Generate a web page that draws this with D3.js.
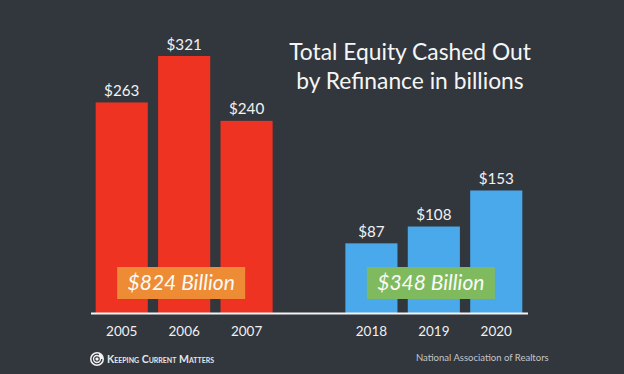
<!DOCTYPE html>
<html><head><meta charset="utf-8">
<script src="https://cdn.jsdelivr.net/npm/d3@7"></script>
<style>html,body{margin:0;padding:0;background:#32373e}svg{display:block}text{font-family:Lato,"Open Sans",sans-serif}</style>
</head><body><svg id="c" width="624" height="374"></svg>
<script>
const categories = ["2005","2006","2007","","2018","2019","2020"];
const years = ["2005","2006","2007","2018","2019","2020"];
const values = [263,321,240,87,108,153];
const barColors = ["#ef3322","#ef3322","#ef3322","#4aa9ea","#4aa9ea","#4aa9ea"];
const titleLines = ["Total Equity Cashed Out","by Refinance in billions"];
const totals = [
  {label:"$824 Billion",from:"2005",to:"2007",fill:"#ee8b35"},
  {label:"$348 Billion",from:"2018",to:"2020",fill:"#7fbb5e"}
];
const svg = d3.select("#c");
svg.append("rect").attr("width",624).attr("height",374).attr("fill","#32373e");
const x = d3.scaleBand().domain(categories).range([90.5,527.5]).paddingInner(0.165).paddingOuter(0.083);
const y = d3.scaleLinear().domain([0,321]).range([313,56]);

svg.selectAll("rect.bar").data(years).join("rect").attr("class","bar")
  .attr("x",d=>x(d)).attr("width",x.bandwidth())
  .attr("y",(d,i)=>y(values[i])).attr("height",(d,i)=>y(0)-y(values[i]))
  .attr("fill",(d,i)=>barColors[i]);

svg.selectAll("text.val").data(years).join("text").attr("class","val")
  .attr("x",d=>x(d)+x.bandwidth()/2).attr("y",(d,i)=>y(values[i])-6.5)
  .attr("text-anchor","middle").attr("font-size",15.2).attr("fill","#f2f2f2")
  .text((d,i)=>"$"+values[i]);

const axis = svg.append("g").attr("transform","translate(0,313)")
  .call(d3.axisBottom(x).tickSize(0).tickPadding(13).tickFormat(d=>d));
axis.select(".domain").attr("stroke","#f4f4f4").attr("stroke-width",2);
axis.selectAll("text").attr("font-size",13.5).attr("fill","#f0f0f0").style("font-family","Lato,sans-serif");

totals.forEach(t=>{
  const cx = (x(t.from)+x(t.to)+x.bandwidth())/2 - 3;
  svg.append("rect").attr("x",cx-64).attr("y",267).attr("width",128).attr("height",32).attr("fill",t.fill);
  svg.append("text").attr("x",cx).attr("y",290).attr("text-anchor","middle")
    .attr("font-size",21).attr("font-style","italic").attr("fill","#fbfbfb").text(t.label);
});

svg.selectAll("text.title").data(titleLines).join("text").attr("class","title")
  .attr("x",410).attr("y",(d,i)=>60+i*29).attr("text-anchor","middle")
  .attr("font-size",22.8).attr("fill","#f5f5f5").text(d=>d);

// logo
const logo = svg.append("g").attr("transform","translate(97,359)");
logo.append("circle").attr("r",7).attr("fill","#f2f2f2");
logo.append("circle").attr("r",4.8).attr("fill","none").attr("stroke","#32373e").attr("stroke-width",1.3).attr("stroke-dasharray","24 6");
logo.append("circle").attr("r",2.2).attr("fill","none").attr("stroke","#32373e").attr("stroke-width",1.2);
svg.append("text").attr("x",107).attr("y",363).attr("font-size",10.5).attr("font-weight",700)
  .style("font-variant","small-caps").attr("fill","#e6e6e6").text("Keeping Current Matters");
svg.append("text").attr("x",416).attr("y",361).attr("font-size",9.5).attr("fill","#c4c6c8").text("National Association of Realtors");
</script></body></html>
